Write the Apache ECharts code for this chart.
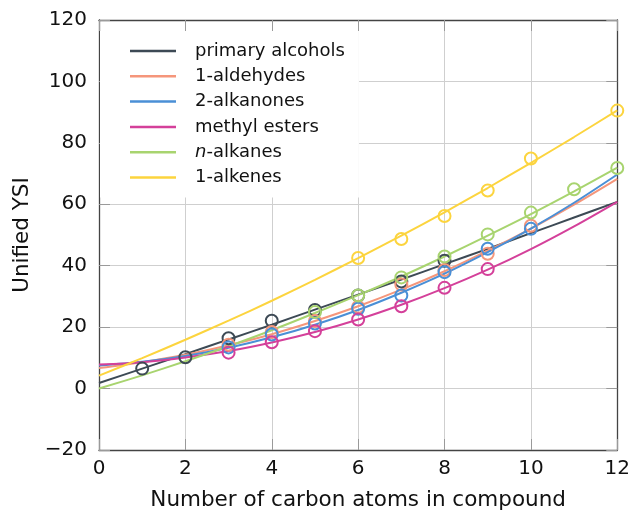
<!DOCTYPE html>
<html>
<head>
<meta charset="utf-8">
<script src="https://cdn.jsdelivr.net/npm/echarts@6/dist/echarts.min.js"></script>
<style>
  html, body { margin: 0; padding: 0; background: #fff; }
  #chart { width: 633px; height: 516px; }
</style>
</head>
<body>
<div id="chart"></div>
<script>
// Fitted curves, evaluated at each carbon count 0..12
const fitX = [0, 1, 2, 3, 4, 5, 6, 7, 8, 9, 10, 11, 12];

const alcoholsFit  = [1.8, 6.5, 11.2, 16.0, 20.8, 25.7, 30.6, 35.5, 40.5, 45.5, 50.6, 55.7, 60.8];
const aldehydesFit = [6.7, 8.6, 11.0, 14.1, 17.7, 22.0, 26.8, 32.2, 38.2, 44.9, 52.1, 59.9, 68.3];
const alkanonesFit = [7.5, 8.7, 10.6, 13.3, 16.7, 20.8, 25.6, 31.2, 37.4, 44.4, 52.1, 60.5, 69.7];
const estersFit    = [7.8, 8.6, 10.1, 12.2, 15.0, 18.4, 22.5, 27.3, 32.7, 38.7, 45.4, 52.8, 60.8];
const alkanesFit   = [0.0, 4.3, 8.9, 13.8, 19.0, 24.6, 30.4, 36.5, 43.0, 49.8, 56.8, 64.2, 71.9];
const alkenesFit   = [4.2, 9.9, 15.9, 22.1, 28.6, 35.4, 42.5, 49.8, 57.4, 65.3, 73.5, 81.9, 90.6];

// Measured values: [carbon atoms, YSI]
const alcoholsPts  = [[1, 6.5], [2, 10.2], [3, 16.4], [4, 22.1], [5, 25.6], [6, 30.3], [7, 34.9], [8, 41.6]];
const aldehydesPts = [[3, 14.3], [4, 18.4], [5, 22.0], [6, 26.6], [7, 33.9], [8, 38.6], [9, 43.9], [10, 53.0]];
const alkanonesPts = [[3, 13.4], [4, 17.6], [5, 21.2], [6, 26.0], [7, 30.3], [8, 37.9], [9, 45.5], [10, 52.0]];
const estersPts    = [[3, 11.7], [4, 15.1], [5, 18.7], [6, 22.5], [7, 26.8], [8, 32.8], [9, 38.9]];
const alkanesPts   = [[5, 24.9], [6, 30.3], [7, 36.2], [8, 43.0], [9, 50.2], [10, 57.3], [11, 64.9], [12, 71.8]];
const alkenesPts   = [[6, 42.5], [7, 48.7], [8, 56.2], [9, 64.5], [10, 74.9], [12, 90.5]];

const seriesNames = ['primary alcohols', '1-aldehydes', '2-alkanones', 'methyl esters', 'n-alkanes', '1-alkenes'];
const seriesColors = ['#3d4a55', '#f5967b', '#4a8fd6', '#d4409a', '#a8d46f', '#fcd43e'];
const fits = [alcoholsFit, aldehydesFit, alkanonesFit, estersFit, alkanesFit, alkenesFit];
const points = [alcoholsPts, aldehydesPts, alkanonesPts, estersPts, alkanesPts, alkenesPts];

const xTicks = { min: 0, max: 12, step: 2 };
const yTicks = { min: -20, max: 120, step: 20 };

const FONT = 'DejaVu Sans';
const chart = echarts.init(document.getElementById('chart'), null, { renderer: 'canvas' });

const series = [];
seriesNames.forEach((name, i) => {
  series.push({
    name: name,
    type: 'line',
    smooth: 0.3,
    showSymbol: false,
    symbol: 'none',
    z: 2,
    lineStyle: { color: seriesColors[i], width: 2 },
    itemStyle: { color: seriesColors[i] },
    data: fitX.map((x, k) => [x, fits[i][k]])
  });
});
seriesNames.forEach((name, i) => {
  series.push({
    name: name + ' (data)',
    type: 'scatter',
    symbol: 'circle',
    symbolSize: 12,
    z: 3,
    itemStyle: { color: 'rgba(255,255,255,0)', borderColor: seriesColors[i], borderWidth: 2, opacity: 1 },
    data: points[i]
  });
});

const tickStyle = { show: true, inside: true, length: 11, lineStyle: { color: '#9a9a9a', width: 1 } };
const boxLine = { show: true, onZero: false, lineStyle: { color: '#444', width: 1.3 } };

chart.setOption({
  animation: false,
  backgroundColor: '#fff',
  textStyle: { fontFamily: FONT },
  grid: { left: 99, right: 14, top: 20, bottom: 66, containLabel: false },
  legend: {
    data: seriesNames,
    orient: 'vertical',
    left: 100,
    top: 31,
    padding: [10, 14, 10, 30],
    backgroundColor: '#fff',
    icon: 'rect',
    itemWidth: 46,
    itemHeight: 2.5,
    itemGap: 5.3,
    z: 10,
    formatter: function (name) {
      return name === 'n-alkanes' ? '{i|n}{t|-alkanes}' : '{t|' + name + '}';
    },
    textStyle: {
      fontFamily: FONT,
      fontSize: 18,
      color: '#111',
      padding: [0, 0, 0, 14],
      lineHeight: 20,
      rich: {
        t: { fontFamily: FONT, fontSize: 18, color: '#111', lineHeight: 20 },
        i: { fontFamily: FONT, fontSize: 18, color: '#111', lineHeight: 20, fontStyle: 'italic' }
      }
    }
  },
  xAxis: [
    {
      type: 'value',
      min: xTicks.min, max: xTicks.max, interval: xTicks.step,
      name: 'Number of carbon atoms in compound',
      nameLocation: 'middle',
      nameGap: 39,
      nameTextStyle: { fontFamily: FONT, fontSize: 21.5, color: '#111' },
      axisLine: boxLine,
      axisTick: tickStyle,
      axisLabel: { fontFamily: FONT, fontSize: 20, color: '#111', margin: 9 },
      splitLine: { show: true, lineStyle: { color: '#cfcfcf', width: 1 } }
    },
    {
      type: 'value', position: 'top',
      min: xTicks.min, max: xTicks.max, interval: xTicks.step,
      axisLine: boxLine, axisTick: tickStyle,
      axisLabel: { show: false }, splitLine: { show: false }
    }
  ],
  yAxis: [
    {
      type: 'value',
      min: yTicks.min, max: yTicks.max, interval: yTicks.step,
      name: 'Unified YSI',
      nameLocation: 'middle',
      nameGap: 66,
      nameTextStyle: { fontFamily: FONT, fontSize: 21.5, color: '#111' },
      axisLine: boxLine,
      axisTick: tickStyle,
      axisLabel: {
        fontFamily: FONT, fontSize: 20, color: '#111', margin: 12,
        formatter: v => String(v).replace('-', '\u2212')
      },
      splitLine: { show: true, lineStyle: { color: '#cfcfcf', width: 1 } }
    },
    {
      type: 'value', position: 'right',
      min: yTicks.min, max: yTicks.max, interval: yTicks.step,
      axisLine: boxLine, axisTick: tickStyle,
      axisLabel: { show: false }, splitLine: { show: false }
    }
  ],
  series: series
});
</script>
</body>
</html>
